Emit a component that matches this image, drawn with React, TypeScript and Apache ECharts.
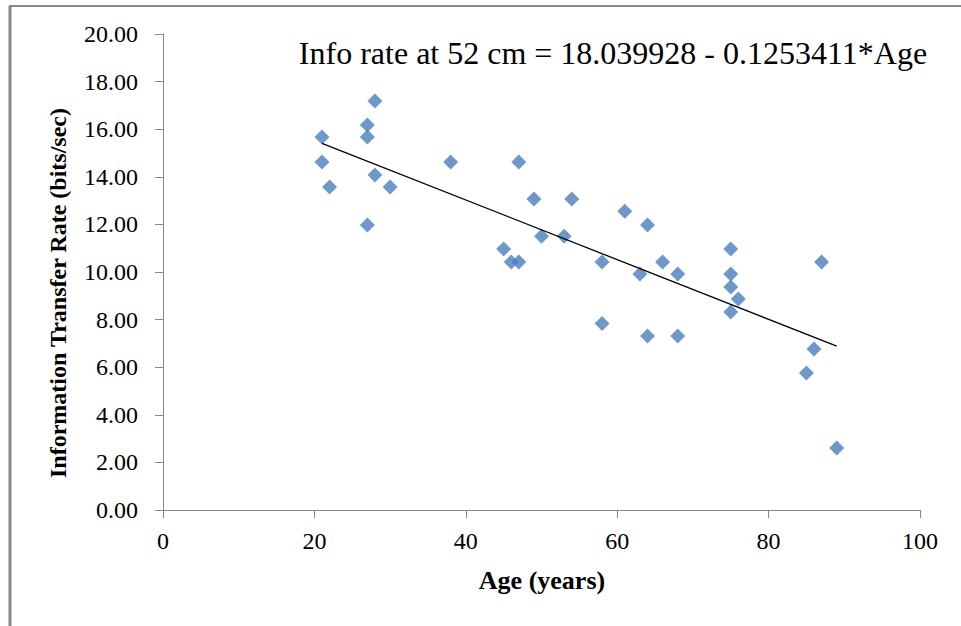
import React, { useEffect, useRef } from "react";
import * as echarts from "echarts";

const ages: number[] = [21, 21, 22, 27, 27, 28, 27, 28, 30, 38, 45, 46, 47, 47, 49, 50, 53, 54, 58, 58, 61, 64, 63, 66, 68, 64, 68, 75, 75, 75, 76, 75, 86, 85, 87, 89];
const rates: number[] = [15.67, 14.62, 13.57, 16.18, 15.67, 17.18, 11.97, 14.08, 13.57, 14.62, 10.97, 10.42, 10.42, 14.62, 13.07, 11.5, 11.5, 13.07, 10.42, 7.84, 12.55, 11.97, 9.92, 10.42, 9.92, 7.31, 7.31, 10.97, 9.92, 9.37, 8.87, 8.32, 6.76, 5.76, 10.42, 2.61];
const trendIntercept = 18.039928;
const trendSlope = -0.1253411;
const titleText = "Info rate at 52 cm = 18.039928 - 0.1253411*Age";
const xAxisTitle = "Age (years)";
const yAxisTitle = "Information Transfer Rate (bits/sec)";

export default function App() {
  const ref = useRef<HTMLDivElement>(null);
  useEffect(() => {
    if (!ref.current) return;
    const chart = echarts.init(ref.current, undefined, { renderer: "svg" });
    const xmin = Math.min(...ages);
    const xmax = Math.max(...ages);
    const trend = [
      [xmin, trendIntercept + trendSlope * xmin],
      [xmax, trendIntercept + trendSlope * xmax],
    ];
    const serif = "'Liberation Serif', 'Times New Roman', serif";
    const axisColor = "#868686";
    chart.setOption({
      animation: false,
      backgroundColor: "#fff",
      grid: { left: 163, top: 34, width: 757, height: 476 },
      xAxis: {
        type: "value",
        min: 0,
        max: 100,
        interval: 20,
        splitLine: { show: false },
        axisLine: { show: true, lineStyle: { color: axisColor, width: 1 } },
        axisTick: { show: true, length: 8, lineStyle: { color: axisColor } },
        axisLabel: { fontFamily: serif, fontSize: 24, color: "#000", margin: 19 },
      },
      yAxis: {
        type: "value",
        min: 0,
        max: 20,
        interval: 2,
        splitLine: { show: false },
        axisLine: { show: true, lineStyle: { color: axisColor, width: 1 } },
        axisTick: { show: true, length: 8, lineStyle: { color: axisColor } },
        axisLabel: {
          fontFamily: serif,
          fontSize: 24,
          color: "#000",
          margin: 25,
          formatter: (v: number) => v.toFixed(2),
        },
      },
      series: [
        {
          type: "scatter",
          data: ages.map((a, i) => [a, rates[i]]),
          symbol: "diamond",
          symbolSize: [15, 15],
          itemStyle: { color: "#4A7EBB" },
          z: 3,
        },
        {
          type: "line",
          data: trend,
          symbol: "none",
          lineStyle: { color: "#000", width: 1.3 },
          z: 4,
        },
      ],
      graphic: [
        {
          type: "line",
          shape: { x1: 10, y1: 6, x2: 10, y2: 626 },
          style: { stroke: "#888", lineWidth: 3 },
        },
        {
          type: "line",
          shape: { x1: 9, y1: 6, x2: 961, y2: 6 },
          style: { stroke: "#888", lineWidth: 2 },
        },
        {
          type: "text",
          x: 613,
          y: 53,
          style: {
            text: titleText,
            font: `32px ${serif}`,
            fill: "#000",
            textAlign: "center",
            textVerticalAlign: "middle",
          },
        },
        {
          type: "text",
          x: 542,
          y: 580,
          style: {
            text: xAxisTitle,
            font: `bold 26px ${serif}`,
            fill: "#000",
            textAlign: "center",
            textVerticalAlign: "middle",
          },
        },
        {
          type: "text",
          x: 58,
          y: 293,
          rotation: Math.PI / 2,
          style: {
            text: yAxisTitle,
            font: `bold 24px ${serif}`,
            fill: "#000",
            textAlign: "center",
            textVerticalAlign: "middle",
          },
        },
      ],
    });
    return () => chart.dispose();
  }, []);
  return (
    <div
      ref={ref}
      style={{ position: "fixed", left: 0, top: 0, width: 961, height: 626 }}
    />
  );
}
